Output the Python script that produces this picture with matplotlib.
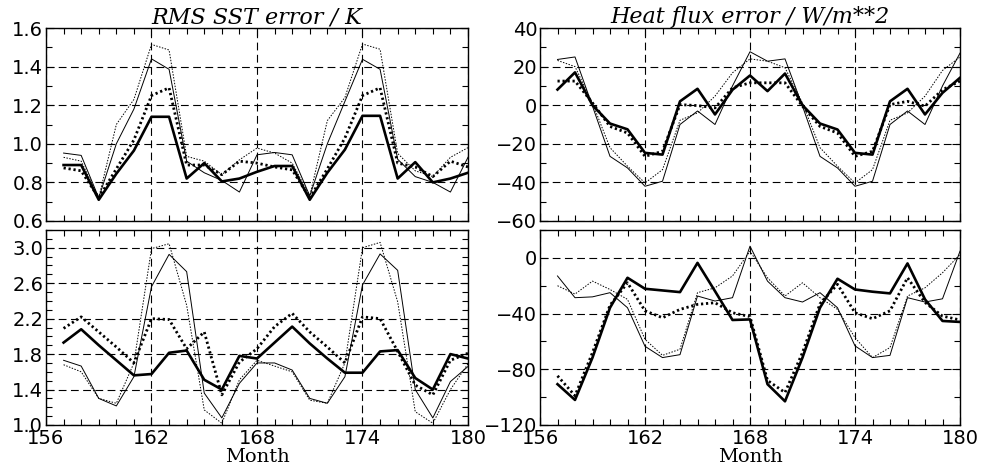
## Monthly error curves: RMS SST error and heat flux error, two runs each
import numpy as np
import matplotlib
matplotlib.use('Agg')
import matplotlib.pyplot as plt
from matplotlib.ticker import MultipleLocator

months = np.arange(157, 181)                       # Month axis

## RMS SST error / K, upper panel
sst_top_thick = [0.89, 0.89, 0.71, 0.845, 0.965, 1.14, 1.14, 0.82, 0.90, 0.805, 0.82, 0.855,
                 0.885, 0.885, 0.71, 0.85, 0.97, 1.145, 1.145, 0.82, 0.905, 0.80, 0.82, 0.85]
sst_top_thickdot = [0.875, 0.86, 0.72, 0.87, 1.02, 1.25, 1.29, 0.89, 0.89, 0.84, 0.91, 0.90,
                    0.88, 0.865, 0.72, 0.87, 1.03, 1.25, 1.29, 0.90, 0.88, 0.83, 0.91, 0.88]
sst_top_thin = [0.952, 0.94, 0.72, 1.0, 1.18, 1.44, 1.386, 0.91, 0.85, 0.81, 0.75, 0.943,
                0.955, 0.943, 0.73, 1.0, 1.22, 1.438, 1.386, 0.92, 0.83, 0.80, 0.75, 0.93]
sst_top_thindot = [0.93, 0.91, 0.72, 1.10, 1.23, 1.515, 1.486, 0.935, 0.91, 0.84, 0.917, 0.978,
                   0.952, 0.90, 0.73, 1.12, 1.24, 1.517, 1.49, 0.95, 0.86, 0.83, 0.93, 0.98]

## RMS SST error / K, lower panel
sst_bot_thick = [1.93, 2.08, 1.90, 1.73, 1.56, 1.575, 1.815, 1.84, 1.51, 1.40, 1.78, 1.75,
                 1.93, 2.11, 1.92, 1.75, 1.59, 1.59, 1.83, 1.845, 1.53, 1.40, 1.80, 1.75]
sst_bot_thickdot = [2.09, 2.22, 2.05, 1.88, 1.70, 2.20, 2.19, 1.86, 2.05, 1.34, 1.71, 1.86,
                    2.11, 2.26, 2.05, 1.88, 1.70, 2.22, 2.20, 1.83, 1.45, 1.34, 1.73, 1.81]
sst_bot_thin = [1.73, 1.665, 1.30, 1.215, 1.545, 2.56, 2.925, 2.73, 1.36, 1.08, 1.47, 1.70,
                1.70, 1.62, 1.30, 1.245, 1.545, 2.58, 2.93, 2.745, 1.40, 1.08, 1.49, 1.66]
sst_bot_thindot = [1.68, 1.60, 1.30, 1.245, 1.70, 2.99, 3.045, 2.35, 1.17, 1.02, 1.51, 1.73,
                   1.665, 1.60, 1.28, 1.245, 1.70, 3.0, 3.06, 2.39, 1.15, 1.02, 1.40, 1.69]

## Heat flux error / W/m**2, upper panel
hf_top_thick = [8.1, 17, 0, -9.5, -12.5, -24.7, -25.6, 2, 8.5, -4.8, 8, 15.4,
                7.3, 16.4, 0, -9.5, -12.6, -24.7, -25.6, 2, 8.5, -4.8, 6.4, 14.2]
hf_top_thickdot = [12.5, 12.5, 1.2, -11, -14.4, -26.5, -23.9, 0.3, -0.2, -1.4, 9, 11.6,
                   11.6, 11.6, -0.5, -11, -14.4, -26.5, -23.9, 0.3, 2, -0.5, 8, 12.5]
hf_top_thin = [23.7, 25, -0.5, -26.5, -32.5, -42, -39.4, -10, -3, -10, 10, 27.7,
               22.8, 24, -0.5, -26.5, -32.5, -42, -39.4, -10, -3, -10, 10, 27]
hf_top_thindot = [23.2, 20, 1, -22, -31.6, -40.3, -33.4, -7.8, -4, 4.7, 16.8, 24,
                  22.8, 19.4, 1, -22, -31.6, -40.3, -33.4, -7.8, -4, 4.7, 18, 25]

## Heat flux error / W/m**2, lower panel
hf_bot_thick = [-90.7, -102, -71.6, -35.8, -14.3, -22.2, -23.4, -24.6, -3.6, -23.9, -44.6, -44.2,
                -90.7, -103, -71.6, -35.8, -15, -22.7, -24.3, -25.5, -4, -29.8, -45.3, -46]
hf_bot_thickdot = [-84.7, -99, -68, -34, -17.9, -38, -43, -37, -33.4, -32.2, -39.4, -42.2,
                   -88, -96.7, -68, -33, -19, -39.4, -43.7, -38, -14.3, -32, -41.8, -44.6]
hf_bot_thin = [-13, -28.6, -28, -25, -35.8, -63.5, -71.6, -69.5, -27.4, -31, -28.6, 8.4,
               -16.7, -28.6, -31.7, -25, -35.8, -63.2, -71.6, -70, -28.6, -31.7, -29.4, 4.8]
hf_bot_thindot = [-20, -26, -16.7, -22.7, -29.8, -58.5, -70, -65.6, -25, -21.5, -13, 4.8,
                  -14.3, -27.4, -17.9, -28.6, -37, -57.3, -71.6, -64.4, -27.4, -21.5, -10.7, 2.4]

xticks = [156, 162, 168, 174, 180]
titles = ['RMS SST error / K', 'Heat flux error / W/m**2']

fig = plt.figure(figsize=(9.86, 4.71), dpi=100)
W, H = 986.0, 471.0

def make_axes(x0, x1, y0, y1):
    # pixel box -> figure fraction
    return fig.add_axes([x0 / W, 1 - y1 / H, (x1 - x0) / W, (y1 - y0) / H])

def draw(ax, thick, thickdot, thin, thindot):
    ax.plot(months, thin, '-', color='black', lw=0.7)
    ax.plot(months, thindot, color='black', lw=0.7, linestyle=(0, (1.5, 1.5)))
    ax.plot(months, thickdot, color='black', lw=2.0, linestyle=(0, (0.8, 1.0)))
    ax.plot(months, thick, '-', color='black', lw=1.9)

def style(ax, ylim, yticks, yminor, xlabels):
    ax.set_xlim(156, 180)
    ax.set_ylim(*ylim)
    ax.set_xticks(xticks)
    ax.xaxis.set_minor_locator(MultipleLocator(1))
    ax.set_yticks(yticks)
    ax.yaxis.set_minor_locator(MultipleLocator(yminor))
    ax.grid(True, which='major', color='black', linestyle=(0, (7, 4)), lw=0.8)
    ax.tick_params(which='both', direction='in', top=True, right=True, color='black')
    ax.tick_params(which='major', length=6, width=0.8)
    ax.tick_params(which='minor', length=4, width=0.8)
    ax.tick_params(axis='y', labelsize=14, pad=2)
    ax.tick_params(axis='x', labelsize=14, pad=3)
    for lab in ax.get_yticklabels() + ax.get_xticklabels():
        lab.set_family('DejaVu Sans')
    if not xlabels:
        ax.set_xticklabels([])
    else:
        ax.set_xlabel('Month', family='DejaVu Serif', fontsize=14, labelpad=0)
    for s in ax.spines.values():
        s.set_linewidth(1.0)

## Left column: SST
ax1 = make_axes(46, 468, 28, 221)
draw(ax1, sst_top_thick, sst_top_thickdot, sst_top_thin, sst_top_thindot)
style(ax1, (0.6, 1.6), [0.6, 0.8, 1.0, 1.2, 1.4, 1.6], 0.1, False)
ax1.set_yticklabels(['0.6', '0.8', '1.0', '1.2', '1.4', '1.6'])
ax1.set_title(titles[0], family='DejaVu Serif', style='italic', fontsize=16, pad=2)

ax2 = make_axes(46, 468, 230, 425)
draw(ax2, sst_bot_thick, sst_bot_thickdot, sst_bot_thin, sst_bot_thindot)
style(ax2, (1.0, 3.2), [1.0, 1.4, 1.8, 2.2, 2.6, 3.0], 0.1, True)
ax2.set_yticklabels(['1.0', '1.4', '1.8', '2.2', '2.6', '3.0'])

## Right column: heat flux
ax3 = make_axes(540, 960, 28, 221)
draw(ax3, hf_top_thick, hf_top_thickdot, hf_top_thin, hf_top_thindot)
style(ax3, (-60, 40), [-60, -40, -20, 0, 20, 40], 10, False)
ax3.set_title(titles[1], family='DejaVu Serif', style='italic', fontsize=16, pad=2)

ax4 = make_axes(540, 960, 230, 425)
draw(ax4, hf_bot_thick, hf_bot_thickdot, hf_bot_thin, hf_bot_thindot)
style(ax4, (-120, 20), [-120, -80, -40, 0], 20, True)

fig.savefig('out.png', dpi=100, facecolor='white')
